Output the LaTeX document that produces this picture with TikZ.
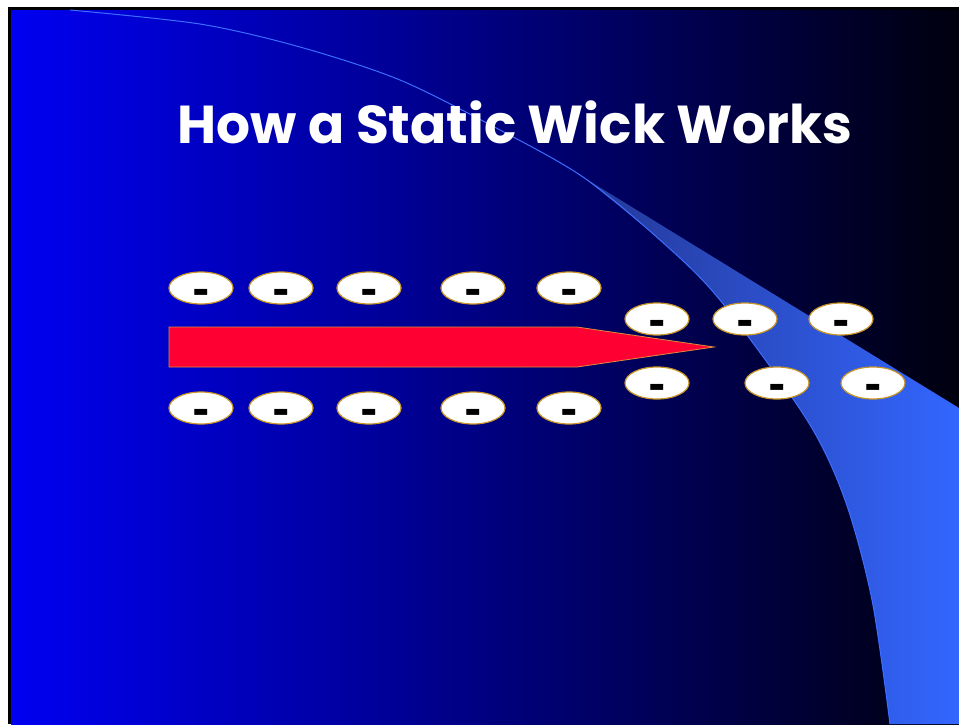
\documentclass[tikz,border=0pt]{standalone}
\usepackage{fontspec}
\usetikzlibrary{shapes.geometric}
\newfontfamily\titlefont{Poppins}
\newfontfamily\dashfont{DejaVu Sans}
\definecolor{bgL}{RGB}{0,0,242}
\definecolor{bgM}{RGB}{0,0,178}
\definecolor{bgR}{RGB}{0,0,14}
\definecolor{bandL}{RGB}{36,56,150}
\definecolor{bandM}{RGB}{48,94,238}
\definecolor{bandR}{RGB}{51,102,255}
\definecolor{arcblue}{RGB}{60,110,255}
\definecolor{wickred}{RGB}{255,0,51}
\definecolor{wickedge}{RGB}{220,140,60}
\definecolor{goldedge}{RGB}{200,150,40}
\tikzset{
  blob/.style={ellipse, draw=goldedge, line width=1.2pt, fill=white, minimum width=64pt, minimum height=32pt, inner sep=0pt},
  minus/.style={font=\dashfont\bfseries\fontsize{42}{42}\selectfont, text=black, inner sep=0pt, anchor=center},
  arcline/.style={draw=arcblue, line width=1pt},
  wick/.style={fill=wickred, draw=wickedge, line width=0.8pt, line join=miter}
}
\begin{document}
\begin{tikzpicture}[x=1pt,y=-1pt]
\useasboundingbox (0,0) rectangle (959,724);
\fill[white] (0,0) rectangle (959,724);
\fill[black] (8,7) rectangle (959,724);
\shade[left color=bgL, middle color=bgM, right color=bgR] (11,10) rectangle (959,724);
% light band
\shade[left color=bandL, middle color=bandM, right color=bandR]
  (583,177) -- (959,408) -- (959,724) -- (890,724)
  -- plot[smooth] coordinates {(890,724) (872,600) (845,500) (807,420) (720,300) (660,240) (583,177)} -- cycle;
\draw[arcline] plot[smooth] coordinates {(70,10) (200,24) (300,47) (400,80) (500,130) (583,177) (660,240) (720,300) (807,420) (845,500) (872,600) (890,724)};
% title
\node[anchor=base, text=white, inner sep=0pt] (title) at (515,143) {\resizebox{674pt}{!}{\titlefont\bfseries How a Static Wick Works}};
% wick
\draw[wick] (169,327) -- (577,327) -- (714,347) -- (577,367) -- (169,367) -- cycle;
% charges
\foreach \n/\x/\y in {a1/201/288, a2/281/288, a3/369/288, a4/473/288, a5/569/288,
                      b1/201/408, b2/281/408, b3/369/408, b4/473/408, b5/569/408,
                      c1/657/319, c2/745/319, c3/841/319,
                      d1/657/383, d2/777/383, d3/873/383} {
  \node[blob] (\n) at (\x,\y) {};
  \node[minus] (m\n) at ([yshift=-9pt]\n.center) {-};
}
\end{tikzpicture}
\end{document}
